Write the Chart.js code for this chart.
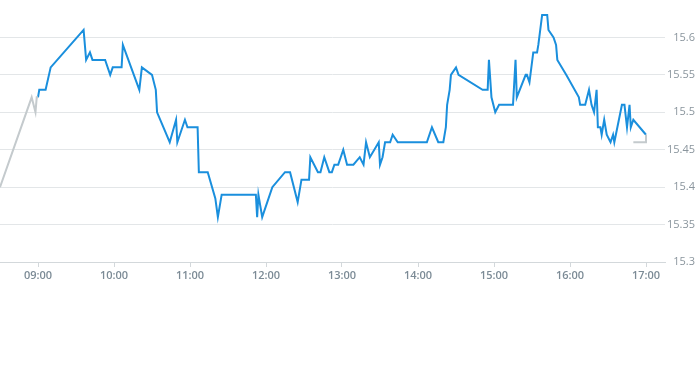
<!DOCTYPE html>
<html>
<head>
<meta charset="utf-8">
<script src="https://cdn.jsdelivr.net/npm/chart.js@4/dist/chart.umd.min.js"></script>
<style>
    body { margin: 0; background: #fff; }
    #wrap { width: 695px; height: 370px; }
</style>
</head>
<body>
<div id="wrap"><canvas id="priceChart" width="695" height="370"></canvas></div>
<script>
// session prices, time as HH:MM
const sessionTimes = [
    '09:00', '09:01', '09:06', '09:10', '09:36', '09:38', '09:41', '09:43', '09:53', '09:57',
    '09:59', '10:06', '10:07', '10:20', '10:22', '10:30', '10:33', '10:34', '10:44', '10:49',
    '10:50', '10:56', '10:58', '11:06', '11:07', '11:14', '11:20', '11:22', '11:25', '11:52',
    '11:53', '11:54', '11:57', '12:05', '12:15', '12:19', '12:25', '12:28', '12:34', '12:35',
    '12:41', '12:43', '12:46', '12:50', '12:52', '12:54', '12:57', '12:59', '13:01', '13:04',
    '13:09', '13:14', '13:17', '13:19', '13:22', '13:29', '13:30', '13:32', '13:34', '13:38',
    '13:40', '13:44', '14:07', '14:11', '14:16', '14:20', '14:22', '14:23', '14:25', '14:26',
    '14:30', '14:32', '14:51', '14:55', '14:56', '14:58', '15:01', '15:04', '15:15', '15:17',
    '15:18', '15:25', '15:26', '15:28', '15:31', '15:34', '15:35', '15:38', '15:42', '15:43',
    '15:47', '15:49', '15:50', '15:57', '16:07', '16:08', '16:12', '16:15', '16:17', '16:19',
    '16:21', '16:22', '16:24', '16:25', '16:27', '16:29', '16:32', '16:34', '16:35', '16:41',
    '16:43', '16:45', '16:47', '16:48', '16:50', '17:00'
];
const sessionPrices = [
    15.52, 15.53, 15.53, 15.56, 15.61, 15.57, 15.58, 15.57, 15.57, 15.55,
    15.56, 15.56, 15.59, 15.53, 15.56, 15.55, 15.53, 15.50, 15.46, 15.49,
    15.46, 15.49, 15.48, 15.48, 15.42, 15.42, 15.385, 15.36, 15.39, 15.39,
    15.36, 15.39, 15.36, 15.40, 15.42, 15.42, 15.38, 15.41, 15.41, 15.44,
    15.42, 15.42, 15.44, 15.42, 15.42, 15.43, 15.43, 15.44, 15.45, 15.43,
    15.43, 15.44, 15.43, 15.46, 15.44, 15.46, 15.43, 15.44, 15.46, 15.46,
    15.47, 15.46, 15.46, 15.48, 15.46, 15.46, 15.48, 15.51, 15.53, 15.55,
    15.56, 15.55, 15.53, 15.53, 15.57, 15.52, 15.50, 15.51, 15.51, 15.57,
    15.52, 15.55, 15.55, 15.54, 15.58, 15.58, 15.59, 15.63, 15.63, 15.61,
    15.60, 15.59, 15.57, 15.55, 15.52, 15.51, 15.51, 15.53, 15.51, 15.50,
    15.53, 15.48, 15.48, 15.47, 15.49, 15.47, 15.46, 15.47, 15.46, 15.51,
    15.51, 15.48, 15.51, 15.48, 15.49, 15.47
];

// pre-open and closing auction (grey)
const preTimes = ['08:30', '08:55', '08:58', '08:59', '09:00'];
const prePrices = [15.40, 15.52, 15.50, 15.52, 15.52];
const postTimes = ['16:50', '17:00', '17:00'];
const postPrices = [15.46, 15.46, 15.47];

const hourTicks = ['09:00', '10:00', '11:00', '12:00', '13:00', '14:00', '15:00', '16:00', '17:00'];
const priceTicks = [15.3, 15.35, 15.4, 15.45, 15.5, 15.55, 15.6];

function toMin(t) {
    const [h, m] = t.split(':').map(Number);
    return h * 60 + m;
}

function fmtMin(v) {
    const h = Math.floor(v / 60);
    const m = Math.round(v % 60);
    return String(h).padStart(2, '0') + ':' + String(m).padStart(2, '0');
}

function toPoints(times, prices) {
    return times.map((t, i) => ({ x: toMin(t), y: prices[i] }));
}

const ctx = document.getElementById('priceChart').getContext('2d');

new Chart(ctx, {
    type: 'line',
    data: {
        datasets: [
            {
                data: toPoints(preTimes, prePrices),
                borderColor: '#c4cacd',
                borderWidth: 2,
                pointRadius: 0,
                tension: 0,
                fill: false
            },
            {
                data: toPoints(postTimes, postPrices),
                borderColor: '#c4cacd',
                borderWidth: 2,
                pointRadius: 0,
                tension: 0,
                fill: false
            },
            {
                data: toPoints(sessionTimes, sessionPrices),
                borderColor: '#1a8fdd',
                borderWidth: 2,
                pointRadius: 0,
                tension: 0,
                fill: false
            }
        ]
    },
    options: {
        responsive: false,
        animation: false,
        layout: { padding: 0 },
        plugins: {
            legend: { display: false },
            tooltip: { enabled: false }
        },
        scales: {
            x: {
                type: 'linear',
                min: toMin('08:30'),
                max: toMin('17:15'),
                afterBuildTicks: scale => {
                    scale.ticks = hourTicks.map(t => ({ value: toMin(t) }));
                },
                afterFit: scale => { scale.height = 108; },
                grid: {
                    drawOnChartArea: false,
                    drawTicks: true,
                    tickLength: 5,
                    color: '#d3d8db'
                },
                border: { display: true, color: '#d3d8db' },
                ticks: {
                    color: '#7c8b96',
                    padding: 2,
                    maxRotation: 0,
                    font: { family: "'Open Sans', sans-serif", size: 11, weight: '600' },
                    callback: v => fmtMin(v)
                }
            },
            y: {
                position: 'right',
                min: 15.3,
                max: 15.65,
                afterBuildTicks: scale => {
                    scale.ticks = priceTicks.map(v => ({ value: v }));
                },
                afterFit: scale => {
                    scale.width = 30;
                    scale.paddingTop = 0;
                    scale.paddingBottom = 0;
                },
                grid: {
                    color: '#e3e6e8',
                    drawTicks: false
                },
                border: { display: false },
                ticks: {
                    color: '#8a959d',
                    padding: 3,
                    crossAlign: 'far',
                    font: { family: "'Open Sans', sans-serif", size: 11 },
                    callback: v => String(+v.toFixed(2))
                }
            }
        }
    }
});
</script>
</body>
</html>
